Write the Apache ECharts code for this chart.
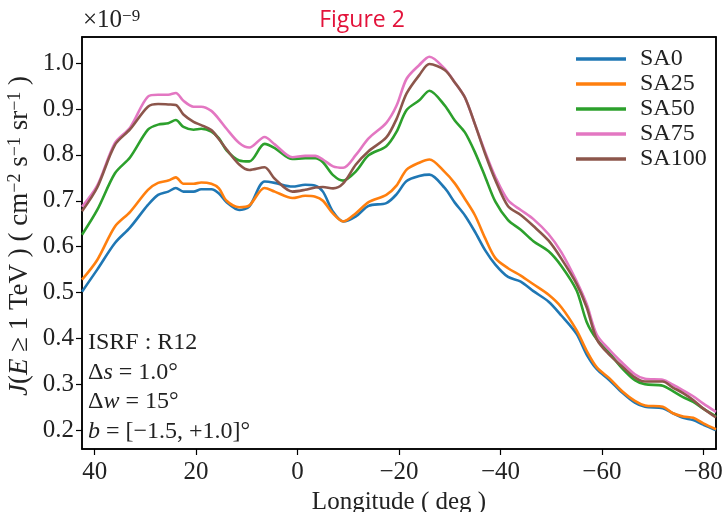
<!DOCTYPE html>
<html>
<head>
<meta charset="utf-8">
<script src="https://cdn.jsdelivr.net/npm/echarts@6/dist/echarts.min.js"></script>
<style>
  html, body { margin: 0; padding: 0; background: #fff; }
  #chart { width: 724px; height: 512px; }
</style>
</head>
<body>
<div id="chart"></div>
<script>
// longitude (deg) and J(E>=1 TeV) in units of 1e-9 cm^-2 s^-1 sr^-1
var longitude = [42.5, 39.5, 36, 33, 29.5, 27.5, 25.5, 24, 22.5, 20.5, 19, 17, 15.5, 14, 11.5, 9.5, 6.5, 4.5, 1,
  -1.5, -3.5, -5, -7, -9, -11.5, -14, -17.5, -19.5, -21.5, -24, -26, -29, -31, -33, -35, -37, -39, -41.5, -44,
  -46.5, -49.5, -52, -55, -57, -59, -61.5, -64, -66.5, -68.5, -72, -74, -76, -78, -80, -82.5];

var sa0 = [0.502, 0.550, 0.608, 0.642, 0.691, 0.713, 0.720, 0.728, 0.720, 0.720, 0.725, 0.725, 0.716, 0.697, 0.680, 0.688, 0.742, 0.739, 0.731,
  0.735, 0.733, 0.720, 0.676, 0.655, 0.666, 0.689, 0.695, 0.714, 0.743, 0.754, 0.757, 0.728, 0.696, 0.668, 0.632, 0.592, 0.561, 0.534, 0.524,
  0.503, 0.480, 0.450, 0.410, 0.365, 0.333, 0.309, 0.282, 0.260, 0.251, 0.248, 0.237, 0.227, 0.222, 0.212, 0.200];

var sa25 = [0.528, 0.571, 0.644, 0.676, 0.724, 0.739, 0.744, 0.751, 0.737, 0.737, 0.740, 0.737, 0.727, 0.700, 0.686, 0.690, 0.728, 0.720, 0.706,
  0.711, 0.709, 0.700, 0.672, 0.655, 0.673, 0.697, 0.713, 0.733, 0.768, 0.783, 0.790, 0.763, 0.738, 0.704, 0.668, 0.618, 0.575, 0.553, 0.537,
  0.518, 0.495, 0.468, 0.418, 0.373, 0.337, 0.313, 0.285, 0.264, 0.254, 0.251, 0.237, 0.230, 0.227, 0.215, 0.202];

var sa50 = [0.626, 0.680, 0.760, 0.795, 0.855, 0.866, 0.869, 0.876, 0.861, 0.855, 0.857, 0.851, 0.836, 0.810, 0.788, 0.786, 0.824, 0.815, 0.791,
  0.793, 0.793, 0.784, 0.756, 0.744, 0.764, 0.799, 0.819, 0.850, 0.898, 0.919, 0.940, 0.908, 0.875, 0.849, 0.805, 0.752, 0.698, 0.658, 0.637,
  0.612, 0.590, 0.558, 0.505, 0.436, 0.398, 0.368, 0.335, 0.309, 0.300, 0.297, 0.285, 0.272, 0.262, 0.247, 0.230];

var sa75 = [0.687, 0.733, 0.826, 0.860, 0.927, 0.931, 0.931, 0.935, 0.918, 0.905, 0.905, 0.896, 0.878, 0.857, 0.826, 0.816, 0.839, 0.823, 0.795,
  0.798, 0.798, 0.790, 0.775, 0.772, 0.800, 0.836, 0.870, 0.907, 0.966, 0.996, 1.014, 0.988, 0.958, 0.925, 0.866, 0.806, 0.752, 0.701, 0.680,
  0.660, 0.627, 0.588, 0.525, 0.475, 0.408, 0.375, 0.347, 0.322, 0.312, 0.310, 0.299, 0.287, 0.274, 0.258, 0.240];

var sa100 = [0.677, 0.729, 0.822, 0.856, 0.905, 0.911, 0.910, 0.909, 0.888, 0.872, 0.865, 0.854, 0.834, 0.812, 0.779, 0.767, 0.773, 0.748, 0.720,
  0.724, 0.729, 0.730, 0.727, 0.738, 0.779, 0.808, 0.838, 0.878, 0.934, 0.974, 0.998, 0.985, 0.958, 0.925, 0.866, 0.802, 0.745, 0.688, 0.669,
  0.645, 0.613, 0.574, 0.519, 0.468, 0.398, 0.364, 0.339, 0.315, 0.306, 0.306, 0.293, 0.281, 0.266, 0.247, 0.228];

var seriesNames = ['SA0', 'SA25', 'SA50', 'SA75', 'SA100'];
var seriesValues = [sa0, sa25, sa50, sa75, sa100];
var colors = ['#1f77b4', '#ff7f0e', '#2ca02c', '#e377c2', '#8c564b'];

var xTicks = [-80, -60, -40, -20, 0, 20, 40];
var yTicks = [0.2, 0.3, 0.4, 0.5, 0.6, 0.7, 0.8, 0.9, 1.0];

var serif = '"Liberation Serif", "DejaVu Serif", serif';
var ink = '#222';

function pairs(vals) {
  return longitude.map(function (x, i) { return [x, vals[i]]; });
}

// plain frame axis (top / right spines, no ticks or labels)
function frameAxis(extra) {
  return Object.assign({
    type: 'value',
    axisLine: { show: true, onZero: false, lineStyle: { color: '#000', width: 1.5 } },
    axisTick: { show: false },
    axisLabel: { show: false },
    splitLine: { show: false }
  }, extra);
}

var chart = echarts.init(document.getElementById('chart'), null, { renderer: 'canvas' });

var option = {
  animation: false,
  backgroundColor: '#fff',
  title: {
    text: 'Figure 2',
    left: 'center',
    top: 4,
    textStyle: { color: '#e3123a', fontFamily: '"Open Sans", "Noto Sans", sans-serif', fontSize: 23, fontWeight: 'normal' }
  },
  grid: {
    left: 82, right: 8, top: 37, bottom: 63,
    outerBoundsMode: 'none', containLabel: false,
    show: true, borderColor: '#000', borderWidth: 1.5, backgroundColor: 'transparent'
  },
  legend: {
    data: seriesNames,
    orient: 'vertical',
    left: 571,
    top: 42,
    icon: 'rect',
    itemWidth: 50,
    itemHeight: 3.5,
    itemGap: 1,
    textStyle: { fontFamily: serif, fontSize: 24, color: ink, padding: [0, 0, 0, 9] }
  },
  xAxis: [{
    type: 'value',
    min: -82.5,
    max: 42.5,
    inverse: true,
    name: 'Longitude ( deg )',
    nameLocation: 'middle',
    nameGap: 33,
    nameTextStyle: { fontFamily: serif, fontSize: 25, color: ink },
    axisLine: { show: true, onZero: false, lineStyle: { color: '#000', width: 1.5 } },
    axisTick: { show: true, length: 6, lineStyle: { color: '#000', width: 1.2 }, customValues: xTicks },
    axisLabel: {
      margin: 11, fontFamily: serif, fontSize: 25, color: ink,
      customValues: xTicks,
      formatter: function (v) { return v < 0 ? '\u2212' + Math.abs(v) : String(v); }
    },
    splitLine: { show: false }
  }, frameAxis({ position: 'top', min: -82.5, max: 42.5, inverse: true })],
  yAxis: [{
    type: 'value',
    min: 0.159,
    max: 1.057,
    axisLine: { show: true, onZero: false, lineStyle: { color: '#000', width: 1.5 } },
    axisTick: { show: true, length: 6, lineStyle: { color: '#000', width: 1.2 }, customValues: yTicks },
    axisLabel: {
      margin: 8, fontFamily: serif, fontSize: 25, color: ink,
      customValues: yTicks,
      formatter: function (v) { return v.toFixed(1); }
    },
    splitLine: { show: false }
  }, frameAxis({ position: 'right', min: 0.159, max: 1.057 })],
  graphic: [
    {
      type: 'text', left: 83, top: 8,
      style: {
        text: '\u00d710{sup|\u22129}',
        fontFamily: serif, fontSize: 25, fill: ink,
        rich: { sup: { fontFamily: serif, fontSize: 17, verticalAlign: 'top', fill: ink } }
      }
    },
    {
      type: 'text', x: 20, y: 236, rotation: Math.PI / 2,
      style: {
        text: '{i|J}({i|E} \u2265 1 TeV ) ( cm{sup|\u22122} s{sup|\u22121} sr{sup|\u22121} )',
        fontFamily: serif, fontSize: 27, fill: ink, align: 'center', verticalAlign: 'middle',
        rich: {
          i: { fontFamily: serif, fontSize: 27, fontStyle: 'italic', fill: ink },
          sup: { fontFamily: serif, fontSize: 18, verticalAlign: 'top', fill: ink }
        }
      }
    },
    {
      type: 'text', left: 88, top: 328,
      style: {
        text: 'ISRF : R12\n\u0394{i|s} = 1.0\u00b0\n\u0394{i|w} = 15\u00b0\n{i|b} = [\u22121.5, +1.0]\u00b0',
        fontFamily: serif, fontSize: 24, lineHeight: 29.5, fill: ink,
        rich: { i: { fontFamily: serif, fontSize: 24, fontStyle: 'italic', lineHeight: 29.5, fill: ink } }
      }
    }
  ],
  series: seriesNames.map(function (name, k) {
    return {
      name: name,
      type: 'line',
      data: pairs(seriesValues[k]),
      showSymbol: false,
      symbol: 'none',
      smooth: 0.3,
      color: colors[k],
      lineStyle: { color: colors[k], width: 2.6 }
    };
  })
};

chart.setOption(option);
</script>
</body>
</html>
